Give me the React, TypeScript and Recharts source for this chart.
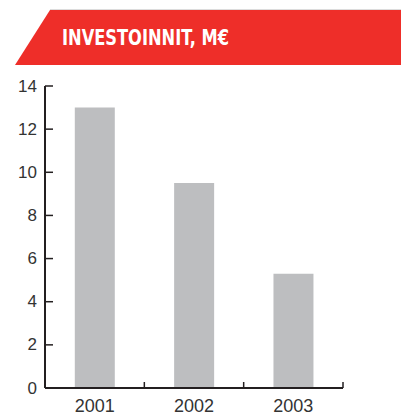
import React from "react";
import { BarChart, Bar, XAxis, YAxis } from "recharts";

const title = "INVESTOINNIT, M€";
const years = ["2001", "2002", "2003"];
const investments = [13, 9.5, 5.3];
const yTicks = [0, 2, 4, 6, 8, 10, 12, 14];

const data = years.map((year, i) => ({ year, value: investments[i] }));

const AXIS = "#231F20";
const TEXT = "#333333";

const YTick = (props: any) => {
  const { x, y, payload } = props;
  return (
    <g>
      <text
        x={x - 8}
        y={y}
        textAnchor="end"
        dominantBaseline="central"
        fontFamily="Liberation Sans, Arial, sans-serif"
        fontSize={17}
        fill={TEXT}
      >
        {payload.value}
      </text>
      {payload.value !== 0 && (
        <line x1={x} y1={y} x2={x + 8} y2={y} stroke={AXIS} strokeWidth={1.5} />
      )}
    </g>
  );
};

const XTick = (props: any) => {
  const { x, y, payload } = props;
  const off = payload.offset ?? 0;
  return (
    <g>
      <text
        x={x}
        y={y + 24}
        textAnchor="middle"
        fontFamily="Liberation Sans, Arial, sans-serif"
        fontSize={18}
        fill={TEXT}
      >
        {payload.value}
      </text>
      <line x1={x + off} y1={y} x2={x + off} y2={y - 6} stroke={AXIS} strokeWidth={1.5} />
    </g>
  );
};

export default function App() {
  return (
    <div style={{ position: "absolute", left: 0, top: 0, width: 401, height: 416, background: "#fff" }}>
      <svg width={401} height={416} style={{ position: "absolute", left: 0, top: 0 }}>
        <line x1={50} y1={9.5} x2={401} y2={9.5} stroke="#dcdcdc" strokeWidth={1} />
        <polygon points="50,10 401,10 401,65 15,65" fill="#EE2E29" />
        <text
          x={62}
          y={45}
          fontFamily="Liberation Sans Narrow, DejaVu Sans Condensed, Arial, sans-serif"
          fontWeight="bold"
          fontSize={21}
          fill="#ffffff"
          textLength={167}
          lengthAdjust="spacingAndGlyphs"
        >
          {title}
        </text>
      </svg>
      <div style={{ position: "absolute", left: 0, top: 0 }}>
        <BarChart
          width={401}
          height={416}
          data={data}
          margin={{ top: 86, right: 58, bottom: 0, left: 0 }}
          barCategoryGap="30%"
        >
          <XAxis
            dataKey="year"
            height={28}
            axisLine={{ stroke: AXIS, strokeWidth: 2 }}
            tickLine={false}
            tickSize={0}
            tickMargin={0}
            tick={<XTick />}
            interval={0}
          />
          <YAxis
            width={45}
            domain={[0, 14]}
            ticks={yTicks}
            axisLine={{ stroke: AXIS, strokeWidth: 2 }}
            tickLine={false}
            tickSize={0}
            tickMargin={0}
            tick={<YTick />}
            interval={0}
          />
          <Bar dataKey="value" fill="#BDBEC0" isAnimationActive={false} />
        </BarChart>
      </div>
    </div>
  );
}
